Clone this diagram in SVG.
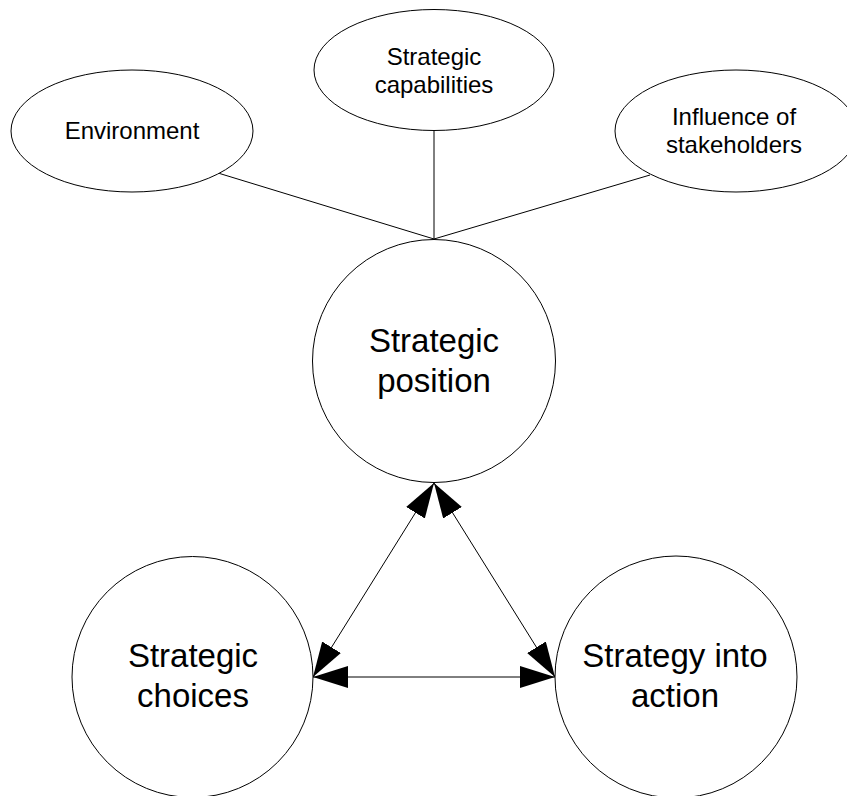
<svg xmlns="http://www.w3.org/2000/svg" width="847" height="796" viewBox="0 0 847 796">
  <defs>
    <style>
      .shape { fill: #ffffff; stroke: #000000; stroke-width: 1; }
      .small { font-family: "Liberation Sans", Arial, sans-serif; font-size: 24px; fill: #000000; text-anchor: middle; }
      .big { font-family: "Liberation Sans", Arial, sans-serif; font-size: 33px; fill: #000000; text-anchor: middle; }
      .link { stroke: #000000; stroke-width: 1; fill: none; }
      .arrow { stroke: #000000; stroke-width: 1; fill: none; marker-start: url(#head); marker-end: url(#head); }
    </style>
    <marker id="head" markerUnits="userSpaceOnUse" markerWidth="36" markerHeight="24" refX="35" refY="11" orient="auto-start-reverse" viewBox="0 0 36 24">
      <path d="M0,0 L35,11 L0,22 Z" fill="#000000"/>
    </marker>
  </defs>
  <rect width="847" height="796" fill="#ffffff"/>

  <g id="connectors">
    <line class="link" x1="218" y1="173" x2="434" y2="239"/>
    <line class="link" x1="434" y1="130.5" x2="434" y2="239"/>
    <line class="link" x1="650" y1="175" x2="434" y2="239"/>
    <line class="arrow" x1="434" y1="483" x2="313" y2="677"/>
    <line class="arrow" x1="434" y1="483" x2="555" y2="677"/>
    <line class="arrow" x1="313" y1="677" x2="555" y2="677"/>
  </g>

  <g id="environment">
    <ellipse class="shape" cx="132" cy="131" rx="121" ry="61"/>
    <text class="small" x="132" y="139">Environment</text>
  </g>

  <g id="strategic-capabilities">
    <ellipse class="shape" cx="434" cy="70" rx="120" ry="60.5"/>
    <text class="small" x="434" y="65">Strategic</text>
    <text class="small" x="434" y="93">capabilities</text>
  </g>

  <g id="influence-of-stakeholders">
    <ellipse class="shape" cx="736" cy="131" rx="121" ry="61"/>
    <text class="small" x="734" y="125">Influence of</text>
    <text class="small" x="734" y="153">stakeholders</text>
  </g>

  <g id="strategic-position">
    <circle class="shape" cx="434" cy="361" r="121.5"/>
    <text class="big" x="434" y="352">Strategic</text>
    <text class="big" x="434" y="392">position</text>
  </g>

  <g id="strategic-choices">
    <circle class="shape" cx="192.5" cy="677" r="120.5"/>
    <text class="big" x="193" y="667">Strategic</text>
    <text class="big" x="193" y="707">choices</text>
  </g>

  <g id="strategy-into-action">
    <circle class="shape" cx="676" cy="677" r="121"/>
    <text class="big" x="675" y="667">Strategy into</text>
    <text class="big" x="675" y="707">action</text>
  </g>
</svg>
